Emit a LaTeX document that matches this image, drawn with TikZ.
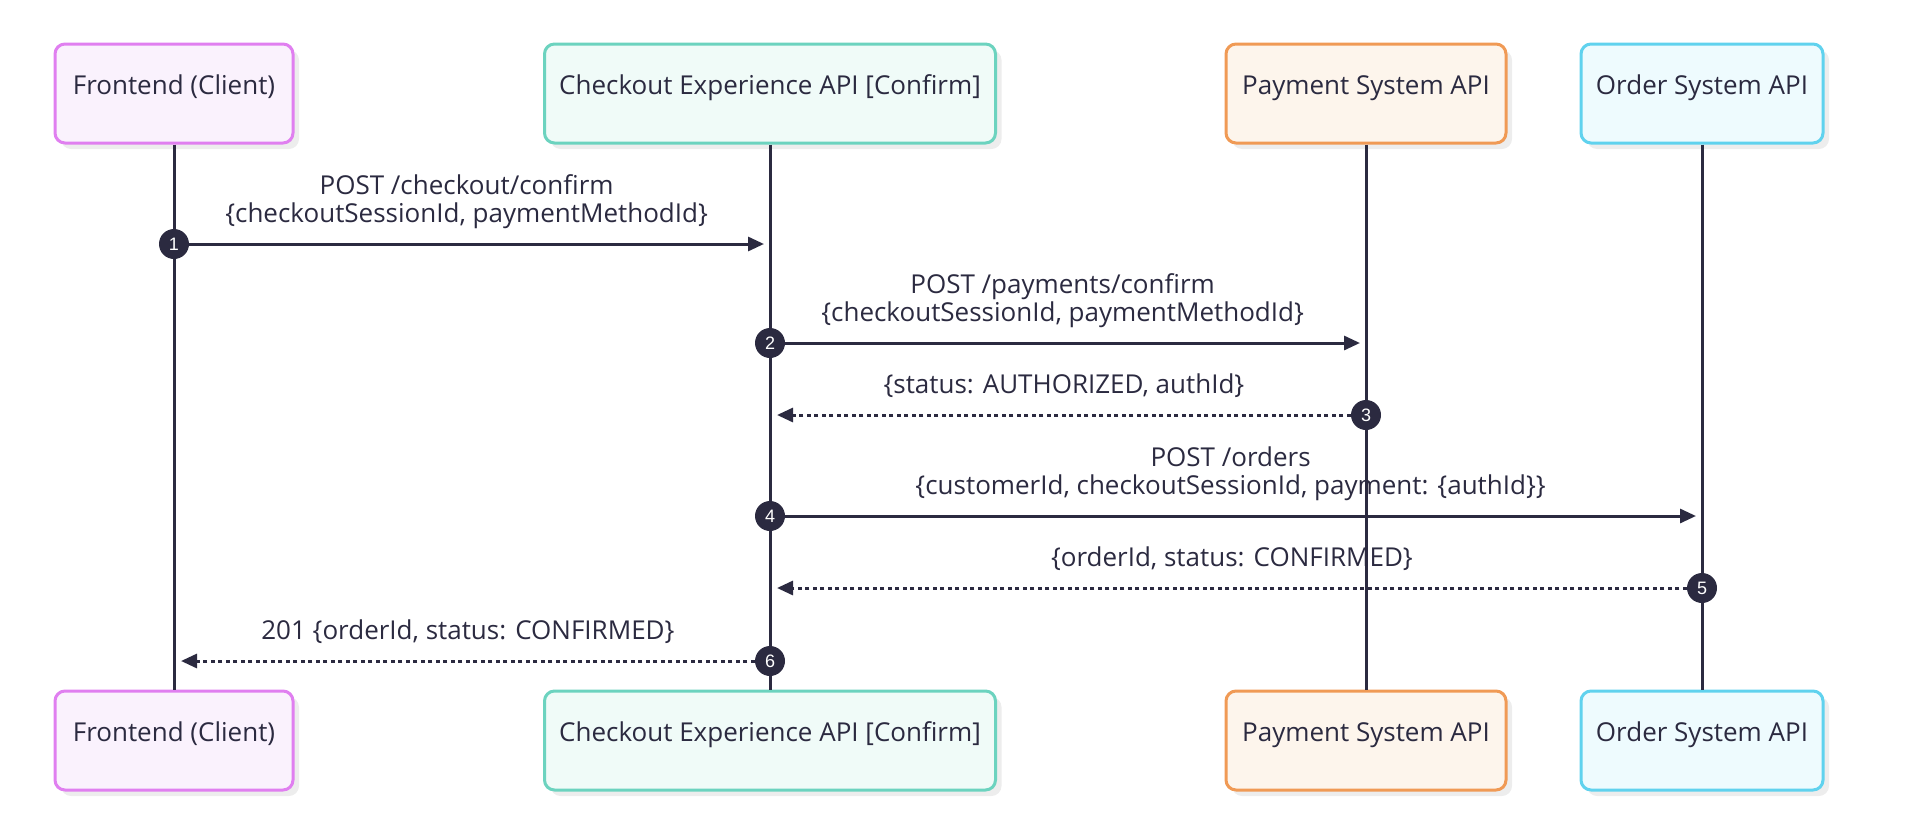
\documentclass[tikz,border=0pt]{standalone}
\usepackage{fontspec}
\setmainfont{Open Sans}
\newfontfamily\numfont{Liberation Sans}
\usetikzlibrary{arrows.meta,shadows}

\definecolor{ink}{HTML}{2B2A40}
\definecolor{feline}{HTML}{E07FF0}
\definecolor{fefill}{HTML}{FAF2FD}
\definecolor{coline}{HTML}{6CD3BF}
\definecolor{cofill}{HTML}{F0FBF8}
\definecolor{paline}{HTML}{F09A55}
\definecolor{pafill}{HTML}{FDF5EC}
\definecolor{orline}{HTML}{60D2EE}
\definecolor{orfill}{HTML}{EEFBFE}

\tikzstyle{actor}=[rectangle,rounded corners=10pt,line width=3pt,text=ink,inner xsep=0pt,inner ysep=0pt,minimum height=99pt,text height=50pt,text depth=49pt,drop shadow={shadow xshift=6pt,shadow yshift=-6pt,fill=black!7,opacity=1}]
\tikzstyle{fe}=[draw=feline,fill=fefill]
\tikzstyle{co}=[draw=coline,fill=cofill]
\tikzstyle{pa}=[draw=paline,fill=pafill]
\tikzstyle{or}=[draw=orline,fill=orfill]
\tikzstyle{lifeline}=[draw=ink,line width=3pt]
\tikzstyle{stepdot}=[circle,fill=ink,text=white,minimum size=30pt,inner sep=0pt,font=\numfont\fontsize{18}{18}\selectfont]
\tikzstyle{call}=[draw=ink,line width=3pt,-{Triangle[length=16pt,width=14pt]}]
\tikzstyle{reply}=[call,dash pattern=on 4pt off 3.5pt]
\tikzstyle{msglabel}=[text=ink,align=center,inner sep=0pt,text depth=6pt,midway,above=14pt]
\tikzstyle{calllabel}=[msglabel,xshift=-10pt]

\begin{document}
\begin{tikzpicture}[x=1pt,y=-1pt,font=\fontsize{26}{28}\selectfont]
	\useasboundingbox (0,0) rectangle (1914,838);
	%Participants top and bottom
	\foreach \x/\name/\w/\sty/\txt in {174/fe/238/fe/Frontend (Client),	770/co/451/co/Checkout Experience API [Confirm],
								1366/pa/280/pa/Payment System API,	1702/or/242/or/Order System API}
	{
		\node[actor,\sty,minimum width=\w] (\name Top) at (\x,93.5) {\txt};
		\node[actor,\sty,minimum width=\w] (\name Bot) at (\x,740.5) {\txt};
	}
	%Lifelines
	\foreach \name in {fe, co, pa, or}
		\draw[lifeline] (\name Top) -- (\name Bot);
	%Steps
	\foreach \x/\y/\name in {174/244/1,	770/343/2,	1366/415/3,
							770/516/4,	1702/588/5,	770/661/6}
		\node[stepdot] (s\name) at (\x,\y) {\name};
	%Arrow ends
	\foreach \x/\y/\name in {764/244/1,	1360/343/2,	777/415/3,
							1696/516/4,	777/588/5,	181/661/6}
		\coordinate (e\name) at (\x,\y);
	%Messages
	\draw[call] (s1) -- node[calllabel] {POST /checkout/confirm\\\{checkoutSessionId, paymentMethodId\}} (e1);
	\draw[call] (s2) -- node[calllabel] {POST /payments/confirm\\\{checkoutSessionId, paymentMethodId\}} (e2);
	\draw[reply] (s3) -- node[msglabel] {\{status: AUTHORIZED, authId\}} (e3);
	\draw[call] (s4) -- node[calllabel] {POST /orders\\\{customerId, checkoutSessionId, payment: \{authId\}\}} (e4);
	\draw[reply] (s5) -- node[msglabel] {\{orderId, status: CONFIRMED\}} (e5);
	\draw[reply] (s6) -- node[msglabel] {201 \{orderId, status: CONFIRMED\}} (e6);
\end{tikzpicture}
\end{document}
